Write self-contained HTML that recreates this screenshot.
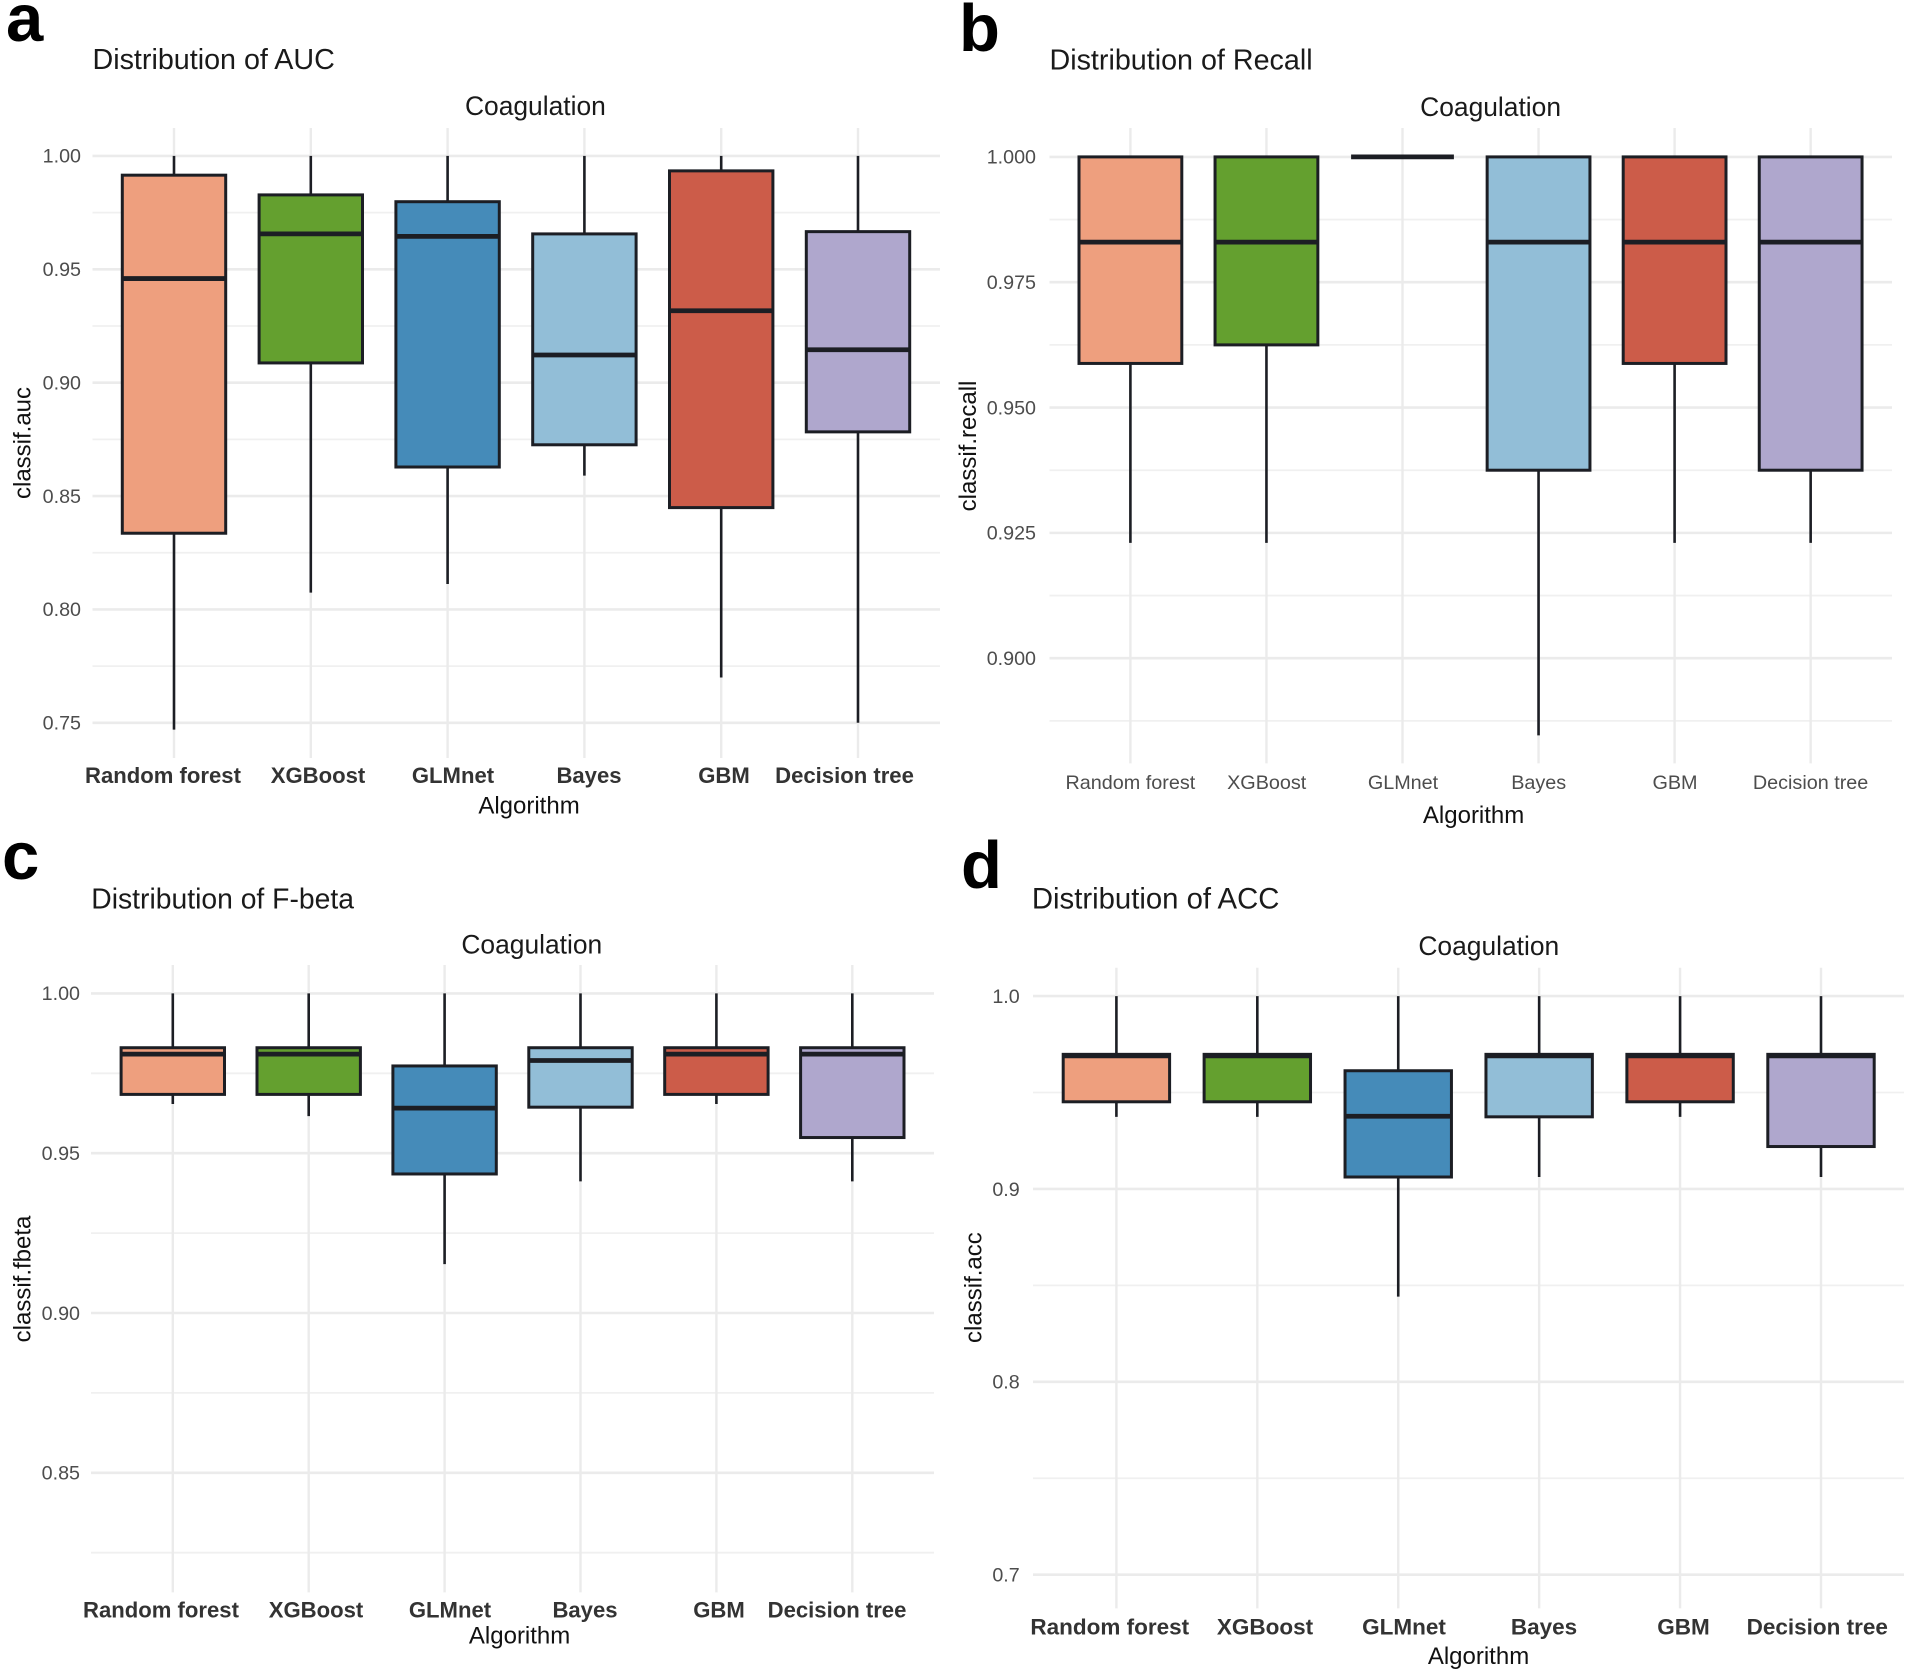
<!DOCTYPE html>
<html lang="en">
<head>
<meta charset="utf-8">
<title>Distribution of classification metrics for coagulation</title>
<style>
html,body{margin:0;padding:0;background:#fff;width:1908px;height:1674px;overflow:hidden}
svg{display:block;font-family:"Liberation Sans",sans-serif}
.letter{font-size:67px;font-weight:700;fill:#000}
.title{font-size:29px;fill:#1a1a1a;dominant-baseline:central}
.strip{font-size:26.4px;fill:#1a1a1a;text-anchor:middle;dominant-baseline:central}
.axt{font-size:24px;fill:#111;text-anchor:middle;dominant-baseline:central}
.ytick{font-size:19.7px;fill:#4d4d4d;text-anchor:end;dominant-baseline:central}
.xtick{font-size:22.1px;font-weight:700;fill:#333;text-anchor:middle;dominant-baseline:central}
.xtick.wide{font-size:22.5px}
.xtick.plain{font-size:19.8px;font-weight:400;fill:#4d4d4d}
</style>
</head>
<body>
<svg id="figure" xmlns="http://www.w3.org/2000/svg" width="1908" height="1674" viewBox="0 0 1908 1674">
  <rect width="1908" height="1674" fill="#fff"/>

  <g id="panel-a"></g>
  <g id="panel-b"></g>
  <g id="panel-c"></g>
  <g id="panel-d"></g>

  <text class="letter" x="6" y="41">a</text>
  <text class="title" x="92.5" y="60" style="font-size:28.7px">Distribution of AUC</text>
  <text class="strip" x="535.4" y="106">Coagulation</text>
  <text class="axt" transform="translate(23 443) rotate(-90)">classif.auc</text>
  <text class="axt" x="529" y="806">Algorithm</text>

  <text class="letter" x="959" y="51">b</text>
  <text class="title" x="1049.5" y="60.3" style="font-size:28.7px">Distribution of Recall</text>
  <text class="strip" x="1490.6" y="106.8">Coagulation</text>
  <text class="axt" transform="translate(968.6 446) rotate(-90)">classif.recall</text>
  <text class="axt" x="1473.6" y="815.7">Algorithm</text>

  <text class="letter" x="2" y="879">c</text>
  <text class="title" x="91.3" y="898.4" style="font-size:28.3px">Distribution of F-beta</text>
  <text class="strip" x="531.8" y="944.3">Coagulation</text>
  <text class="axt" transform="translate(23 1279) rotate(-90)">classif.fbeta</text>
  <text class="axt" x="519.6" y="1636">Algorithm</text>

  <text class="letter" x="961" y="888">d</text>
  <text class="title" x="1031.9" y="898.9" style="font-size:29.3px">Distribution of ACC</text>
  <text class="strip" x="1488.8" y="945.9">Coagulation</text>
  <text class="axt" transform="translate(974 1287.6) rotate(-90)">classif.acc</text>
  <text class="axt" x="1478.5" y="1656.5">Algorithm</text>
</svg>

<script>
const categories = ['Random forest', 'XGBoost', 'GLMnet', 'Bayes', 'GBM', 'Decision tree'];
const fillColors = ['#ee9f7e', '#64a02f', '#458bb9', '#92bed7', '#cc5c49', '#afa7cd'];

const aucTicks = [1.00, 0.95, 0.90, 0.85, 0.80, 0.75];
const aucMinorTicks = [0.975, 0.925, 0.875, 0.825, 0.775];
const aucWhiskerHigh = [1, 1, 1, 1, 1, 1];
const aucQ3 = [0.9915, 0.9828, 0.9798, 0.9656, 0.9934, 0.9666];
const aucMedian = [0.9459, 0.9656, 0.9645, 0.9122, 0.9317, 0.9145];
const aucQ1 = [0.8336, 0.9087, 0.8628, 0.8726, 0.8449, 0.8783];
const aucWhiskerLow = [0.747, 0.8074, 0.8112, 0.859, 0.770, 0.75];

const recallTicks = [1.000, 0.975, 0.950, 0.925, 0.900];
const recallMinorTicks = [0.9875, 0.9625, 0.9375, 0.9125, 0.8875];
const recallWhiskerHigh = [1, 1, 1, 1, 1, 1];
const recallQ3 = [1, 1, 1, 1, 1, 1];
const recallMedian = [0.983, 0.983, 1, 0.983, 0.983, 0.983];
const recallQ1 = [0.9588, 0.9625, 1, 0.9375, 0.9588, 0.9375];
const recallWhiskerLow = [0.923, 0.923, 1, 0.8846, 0.923, 0.923];

const fbetaTicks = [1.00, 0.95, 0.90, 0.85];
const fbetaMinorTicks = [0.975, 0.925, 0.875, 0.825];
const fbetaWhiskerHigh = [1, 1, 1, 1, 1, 1];
const fbetaQ3 = [0.983, 0.983, 0.9773, 0.983, 0.983, 0.983];
const fbetaMedian = [0.981, 0.981, 0.9641, 0.979, 0.981, 0.981];
const fbetaQ1 = [0.9684, 0.9684, 0.9435, 0.9644, 0.9684, 0.9549];
const fbetaWhiskerLow = [0.9654, 0.9616, 0.9153, 0.9412, 0.9654, 0.9412];

const accTicks = [1.0, 0.9, 0.8, 0.7];
const accMinorTicks = [0.95, 0.85, 0.75];
const accWhiskerHigh = [1, 1, 1, 1, 1, 1];
const accQ3 = [0.9698, 0.9698, 0.9613, 0.9698, 0.9698, 0.9698];
const accMedian = [0.969, 0.969, 0.9377, 0.969, 0.969, 0.969];
const accQ1 = [0.9452, 0.9452, 0.9062, 0.9374, 0.9452, 0.922];
const accWhiskerLow = [0.9374, 0.9374, 0.8442, 0.9062, 0.9374, 0.9062];

const NS = 'http://www.w3.org/2000/svg';

function make(tag, attrs, parent) {
  const node = document.createElementNS(NS, tag);
  for (const k in attrs) node.setAttribute(k, attrs[k]);
  parent.appendChild(node);
  return node;
}

function drawPanel(cfg) {
  const g = document.getElementById(cfg.id);
  const yScale = v => cfg.yTop + (cfg.vTop - v) * (cfg.yBot - cfg.yTop) / (cfg.vTop - cfg.vBot);
  const xScale = i => cfg.x0 + i * cfg.step;

  cfg.minor.forEach(v => {
    const line = make('line', {x1: cfg.left, x2: cfg.right, y1: yScale(v), y2: yScale(v), stroke: '#f0f0f0', 'stroke-width': 1.8}, g);
    
    
  });
  cfg.ticks.forEach(v => {
    const line = make('line', {x1: cfg.left, x2: cfg.right, y1: yScale(v), y2: yScale(v), stroke: '#ebebeb', 'stroke-width': 2.6}, g);
    
    
    const label = make('text', {class: 'ytick', x: cfg.tickRight, y: yScale(v) + 0.8}, g);
    label.textContent = v.toFixed(cfg.decimals);
    
    
  });

  categories.forEach((name, i) => {
    const cx = xScale(i);
    const vline = make('line', {x1: cx, x2: cx, y1: cfg.gridTop, y2: cfg.gridBot, stroke: '#ebebeb', 'stroke-width': 2.4}, g);
    
    

    const whisker = make('line', {x1: cx, x2: cx, y1: yScale(cfg.high[i]), y2: yScale(cfg.low[i]), stroke: '#1c1e24', 'stroke-width': 2.6}, g);
    
    

    const top = yScale(cfg.q3[i]);
    const bottom = yScale(cfg.q1[i]);
    const box = make('rect', {x: cx - cfg.half, y: top, width: cfg.half * 2, height: Math.max(bottom - top, 0), fill: fillColors[i], stroke: '#1c1e24', 'stroke-width': 3}, g);
    
    

    const median = make('line', {x1: cx - cfg.half, x2: cx + cfg.half, y1: yScale(cfg.median[i]), y2: yScale(cfg.median[i]), stroke: '#1c1e24', 'stroke-width': 4.8}, g);
    
    

    const tick = make('text', {class: 'xtick ' + cfg.labelClass, x: cfg.labelX[i], y: cfg.labelY}, g);
    tick.textContent = name;
    
    
  });
}

drawPanel({
  id: 'panel-a', ticks: aucTicks, minor: aucMinorTicks, decimals: 2,
  high: aucWhiskerHigh, q3: aucQ3, median: aucMedian, q1: aucQ1, low: aucWhiskerLow,
  vTop: 1.0, vBot: 0.75, yTop: 155.9, yBot: 722.8,
  x0: 174, step: 136.8, half: 51.7, left: 92.5, right: 940,
  gridTop: 128, gridBot: 758, tickRight: 81,
  labelX: [163, 318, 453, 589, 724, 844.5], labelY: 775.6, labelClass: ''
});

drawPanel({
  id: 'panel-b', ticks: recallTicks, minor: recallMinorTicks, decimals: 3,
  high: recallWhiskerHigh, q3: recallQ3, median: recallMedian, q1: recallQ1, low: recallWhiskerLow,
  vTop: 1.0, vBot: 0.9, yTop: 156.9, yBot: 658.2,
  x0: 1130.4, step: 136.05, half: 51.4, left: 1049.5, right: 1892,
  gridTop: 128, gridBot: 763.4, tickRight: 1036,
  labelX: [1130.4, 1266.7, 1403, 1538.7, 1675, 1810.6], labelY: 783, labelClass: 'plain'
});

drawPanel({
  id: 'panel-c', ticks: fbetaTicks, minor: fbetaMinorTicks, decimals: 2,
  high: fbetaWhiskerHigh, q3: fbetaQ3, median: fbetaMedian, q1: fbetaQ1, low: fbetaWhiskerLow,
  vTop: 1.0, vBot: 0.85, yTop: 993.4, yBot: 1472.8,
  x0: 172.8, step: 135.9, half: 51.7, left: 91, right: 934,
  gridTop: 965, gridBot: 1592.4, tickRight: 80,
  labelX: [161, 316, 450, 585, 719, 837], labelY: 1610, labelClass: ''
});

drawPanel({
  id: 'panel-d', ticks: accTicks, minor: accMinorTicks, decimals: 1,
  high: accWhiskerHigh, q3: accQ3, median: accMedian, q1: accQ1, low: accWhiskerLow,
  vTop: 1.0, vBot: 0.7, yTop: 996.1, yBot: 1574.7,
  x0: 1116.4, step: 140.92, half: 53.2, left: 1033, right: 1904,
  gridTop: 967.8, gridBot: 1608.4, tickRight: 1019.7,
  labelX: [1109.8, 1265, 1404, 1544, 1683.5, 1817.3], labelY: 1627, labelClass: 'wide'
});
</script>
</body>
</html>
